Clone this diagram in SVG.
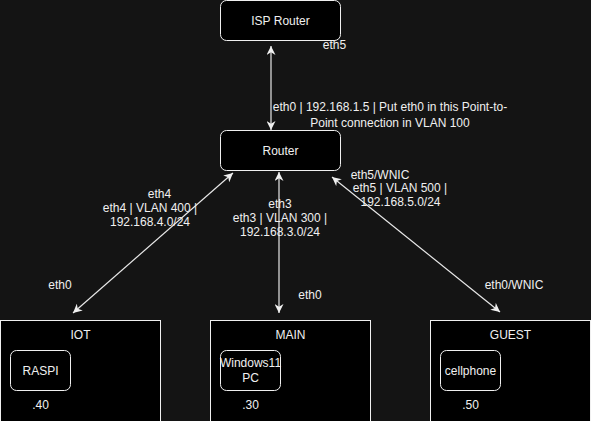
<svg xmlns="http://www.w3.org/2000/svg" width="591" height="421" viewBox="0 0 591 421">
<style>
.bg{fill:#141414}
.node{fill:#000;stroke:#f0f0f0;stroke-width:1}
.grp{fill:#000;stroke:#f0f0f0;stroke-width:1}
text{font-family:"Liberation Sans",Arial,sans-serif;fill:#f0f0f0;text-anchor:middle;dominant-baseline:central}
.n{font-size:12px}
.l{font-size:12px}
.edge{stroke:#e8e8e8;stroke-width:1.2;fill:none;marker-start:url(#arr);marker-end:url(#arr)}
</style>
<defs>
<marker id="arr" viewBox="0 0 10 10" refX="10" refY="5" markerWidth="9" markerHeight="9" markerUnits="userSpaceOnUse" orient="auto-start-reverse">
<path d="M0,0 L10,5 L0,10 L3,5 z" fill="#f0f0f0"/>
</marker>
</defs>
<rect class="bg" x="0" y="0" width="591" height="421"/>

<g id="isp-router">
<rect class="node" x="220.5" y="0.5" width="120" height="40" rx="6"/>
<text class="n" x="280.5" y="20.5">ISP Router</text>
</g>
<g id="router">
<rect class="node" x="220.5" y="130.5" width="120" height="40" rx="6"/>
<text class="n" x="280.5" y="150.5">Router</text>
</g>
<g id="iot">
<rect class="grp" x="0.5" y="320.5" width="160" height="110"/>
<text class="n" x="80.5" y="335">IOT</text>
<text class="n" x="40.5" y="405">.40</text>
</g>
<g id="raspi">
<rect class="node" x="10.5" y="350.5" width="60" height="40" rx="6"/>
<text class="n" x="40.5" y="370.5">RASPI</text>
</g>
<g id="main">
<rect class="grp" x="210.5" y="320.5" width="160" height="110"/>
<text class="n" x="290.5" y="335">MAIN</text>
<text class="n" x="250.5" y="405">.30</text>
</g>
<g id="windows-pc">
<rect class="node" x="220.5" y="350.5" width="60" height="40" rx="6"/>
<text class="n" x="250.5" y="363">Windows11</text>
<text class="n" x="250.5" y="378">PC</text>
</g>
<g id="guest">
<rect class="grp" x="430.5" y="320.5" width="160" height="110"/>
<text class="n" x="510.5" y="335">GUEST</text>
<text class="n" x="470.5" y="405">.50</text>
</g>
<g id="cellphone">
<rect class="node" x="440.5" y="350.5" width="60" height="40" rx="6"/>
<text class="n" x="470.5" y="370.5">cellphone</text>
</g>

<g id="connectors">
<line class="edge" x1="271" y1="46" x2="271" y2="130"/>
<line class="edge" x1="233" y1="173" x2="73" y2="313"/>
<line class="edge" x1="279" y1="172" x2="279" y2="313"/>
<line class="edge" x1="332" y1="177" x2="500" y2="312"/>
</g>

<g id="labels">
<text class="l" x="334.5" y="45">eth5</text>
<text class="l" x="390" y="107">eth0 | 192.168.1.5 | Put eth0 in this Point-to-</text>
<text class="l" x="390" y="123">Point connection in VLAN 100</text>
<text class="l" x="159.5" y="194">eth4</text>
<text class="l" x="150" y="208">eth4 | VLAN 400 |</text>
<text class="l" x="150" y="222">192.168.4.0/24</text>
<text class="l" x="60" y="285">eth0</text>
<text class="l" x="280" y="204">eth3</text>
<text class="l" x="280" y="218">eth3 | VLAN 300 |</text>
<text class="l" x="280" y="232">192.168.3.0/24</text>
<text class="l" x="310" y="295">eth0</text>
<text class="l" x="380" y="175">eth5/WNIC</text>
<text class="l" x="400" y="188">eth5 | VLAN 500 |</text>
<text class="l" x="400.5" y="202">192.168.5.0/24</text>
<text class="l" x="514" y="285">eth0/WNIC</text>
</g>
</svg>
